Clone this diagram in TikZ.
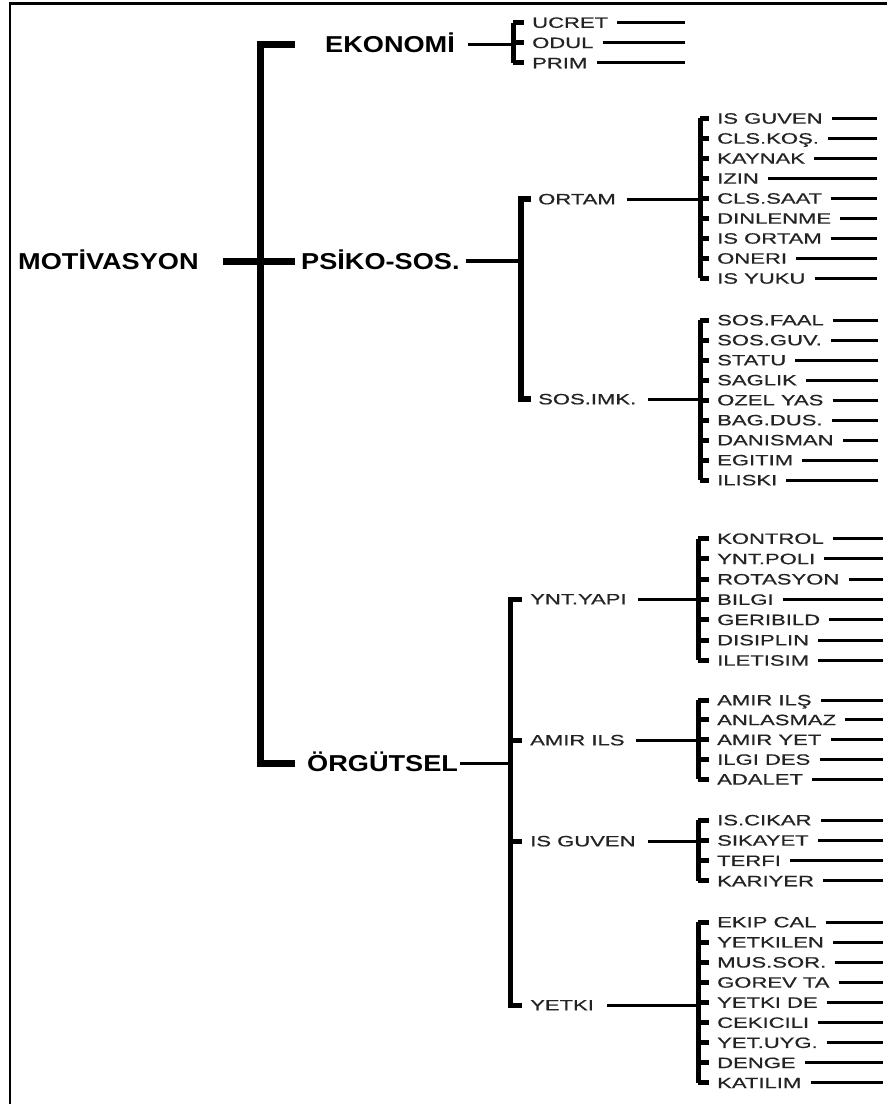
\documentclass[tikz,border=0pt]{standalone}
\usepackage{fontspec}
\newfontfamily\bigf{Liberation Sans Bold}[FakeStretch=1.18]
\newfontfamily\smf{Liberation Sans}[FakeStretch=1.47,FakeBold=0.6]
\definecolor{txt}{RGB}{35,35,35}
\tikzset{
  big/.style={font=\bigf\fontsize{23}{23}\selectfont, anchor=west, inner sep=0pt, text height=16.5pt, text depth=0pt, text=black},
  lbl/.style={font=\smf\fontsize{15}{15}\selectfont, anchor=west, inner sep=0pt, text height=10.7pt, text depth=0pt, text=txt},
  mainline/.style={line width=7pt},
  br/.style={line width=5pt},
  brv/.style={line width=5pt, line cap=square},
  conn/.style={line width=3pt},
  leafline/.style={line width=3pt},
}
% #1 prefix, #2 bracket x, #3 text x, #4 top y, #5 spacing, #6 bottom y, #7 right x, #8 list
\newcommand\leafgroup[8]{%
  \coordinate (#1T) at (#2,#4);
  \coordinate (#1B) at (#2,#6);
  \foreach \t [count=\i from 0] in {#8} {
    \pgfmathsetmacro\yy{#4+\i*#5}
    \node[lbl] (#1\i) at (#3,\yy) {\t};
    \coordinate (#1e\i) at (#7,\yy);
    \coordinate (#1b\i) at (#2,\yy);
    \draw[leafline] ([xshift=9pt]#1\i.east) -- (#1e\i);
    \draw[br] (#1b\i) -- ([xshift=-8pt]#1\i.west);
  }
  \draw[brv] (#1T) -- (#1B);
}
\begin{document}
\begin{tikzpicture}[x=1pt,y=-1pt]
\useasboundingbox (0,0) rectangle (887,1104);
% frame
\draw[line width=2.5pt] (9,3.5) -- (887,3.5);
\draw[line width=2pt] (10,3) -- (10,1104);

% level 0/1
\node[big] (MOT) at (18,261) {MOTİVASYON};
\node[big] (EKO) at (325,44) {EKONOMİ};
\node[big] (PSI) at (301,261) {PSİKO-SOS.};
\node[big] (ORG) at (307,763) {ÖRGÜTSEL};
\coordinate (mt) at (260,44);
\coordinate (mb) at (260,763);
\coordinate (ekoS) at (295,44);
\coordinate (orgS) at (295,763);
\draw[mainline] (ekoS) -- (mt) -- (mb) -- (orgS);
\draw[mainline] ([xshift=24pt]MOT.east) -- ([xshift=-6pt]PSI.west);

% EKONOMI group
\leafgroup{e}{513}{532}{22.5}{20.2}{62.9}{685}{UCRET,ODUL,PRIM}
\draw[conn] ([xshift=13pt]EKO.east) -- (EKO.east -| eT);

% PSIKO-SOS level 2
\node[lbl] (ORT) at (538,199) {ORTAM};
\node[lbl] (SOS) at (538,399) {SOS.IMK.};
\coordinate (b2t) at (521,199);
\coordinate (b2b) at (521,399);
\draw[br, line width=6pt] ([xshift=-7pt]ORT.west) -- (b2t) -- (b2b) -- ([xshift=-7pt]SOS.west);
\draw[conn, line width=4.5pt] ([xshift=6pt]PSI.east) -- (PSI.east -| b2t);

\leafgroup{o}{700}{717}{118.3}{20}{278.3}{877}{IS GUVEN,CLS.KOŞ.,KAYNAK,IZIN,CLS.SAAT,DINLENME,IS ORTAM,ONERI,IS YUKU}
\leafgroup{s}{700}{717}{320}{20}{480}{878}{SOS.FAAL,SOS.GUV.,STATU,SAGLIK,OZEL YAS,BAG.DUS.,DANISMAN,EGITIM,ILISKI}
\draw[conn] ([xshift=11pt]ORT.east) -- (ORT.east -| oT);
\draw[conn] ([xshift=12pt]SOS.east) -- (SOS.east -| sT);

% ORGUTSEL level 2
\node[lbl] (YNT) at (530,599) {YNT.YAPI};
\node[lbl] (AMI) at (530,740) {AMIR ILS};
\node[lbl] (ISG) at (530,841) {IS GUVEN};
\node[lbl] (YET) at (530,1005) {YETKI};
\coordinate (b4t) at (510,599);
\coordinate (b4b) at (510,1005);
\draw[br] ([xshift=-8pt]YNT.west) -- (b4t) -- (b4b) -- ([xshift=-8pt]YET.west);
\draw[br] (AMI.west -| b4t) -- ([xshift=-8pt]AMI.west);
\draw[br] (ISG.west -| b4t) -- ([xshift=-8pt]ISG.west);
\draw[conn] ([xshift=2pt]ORG.east) -- (ORG.east -| b4t);

\leafgroup{y}{698}{717}{538.5}{20.3}{660.3}{883}{KONTROL,YNT.POLI,ROTASYON,BILGI,GERIBILD,DISIPLIN,ILETISIM}
\leafgroup{a}{698}{717}{700}{19.8}{779.2}{883}{AMIR ILŞ,ANLASMAZ,AMIR YET,ILGI DES,ADALET}
\leafgroup{i}{698}{717}{820}{20.3}{880.9}{883}{IS.CIKAR,SIKAYET,TERFI,KARIYER}
\leafgroup{k}{698}{717}{922}{20.1}{1082.8}{883}{EKIP CAL,YETKILEN,MUS.SOR.,GOREV TA,YETKI DE,CEKICILI,YET.UYG.,DENGE,KATILIM}
\draw[conn] ([xshift=11pt]YNT.east) -- (YNT.east -| yT);
\draw[conn] ([xshift=11pt]AMI.east) -- (AMI.east -| aT);
\draw[conn] ([xshift=12pt]ISG.east) -- (ISG.east -| iT);
\draw[conn] ([xshift=13pt]YET.east) -- (YET.east -| kT);
\end{tikzpicture}
\end{document}
